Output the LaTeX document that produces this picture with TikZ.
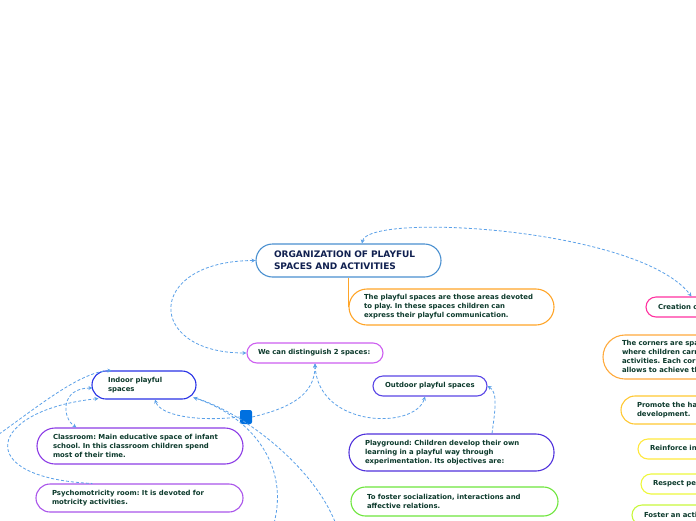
\documentclass[tikz,border=0pt]{standalone}
\usepackage{fontspec}
\setmainfont{DejaVu Sans}
\usetikzlibrary{arrows.meta,calc}
\definecolor{txt}{RGB}{12,58,44}
\definecolor{ttl}{RGB}{16,32,80}
\definecolor{cTitle}{RGB}{74,144,208}
\definecolor{cOrange}{RGB}{255,165,40}
\definecolor{cWecan}{RGB}{205,95,240}
\definecolor{cIndoor}{RGB}{40,50,230}
\definecolor{cOutdoor}{RGB}{90,70,230}
\definecolor{cClass}{RGB}{140,60,230}
\definecolor{cPsycho}{RGB}{170,85,235}
\definecolor{cPlay}{RGB}{80,50,220}
\definecolor{cFoster}{RGB}{110,230,60}
\definecolor{cCreation}{RGB}{255,50,160}
\definecolor{cCorners}{RGB}{255,170,60}
\definecolor{cPromote}{RGB}{255,200,50}
\definecolor{cReinforce}{RGB}{255,232,60}
\definecolor{cRespect}{RGB}{238,248,60}
\definecolor{cFosterAn}{RGB}{200,248,60}
\definecolor{cSquare}{RGB}{0,112,224}
\definecolor{cLink}{RGB}{90,160,232}
\newcommand\mmf{\bfseries\fontsize{6.9}{9}\selectfont}
\newcommand\mmt{\bfseries\fontsize{9}{12}\selectfont}
\frenchspacing
\begin{document}
\begin{tikzpicture}[x=1pt,y=-1pt,
  mm/.style={draw, line width=1.1pt, align=left, inner ysep=0pt, font=\mmf, text=txt, fill=white},
  link/.style={draw=cLink, line width=0.8pt, dash pattern=on 3pt off 2pt},
  tip/.style={-{Stealth[length=4pt,width=4pt]}},
  tips/.style={{Stealth[length=4pt,width=4pt]}-{Stealth[length=4pt,width=4pt]}}]
\clip (0,0) rectangle (696,520);
\fill[white] (0,0) rectangle (696,520);
% nodes
\node[mm, draw=cTitle, font=\mmt, text=ttl, minimum width=185pt, minimum height=33pt, inner xsep=18pt, text width=149pt, rounded corners=16.5pt] (title) at (348.5,260.5) {ORGANIZATION OF PLAYFUL\\SPACES AND ACTIVITIES};
\node[mm, draw=cOrange, minimum width=205pt, minimum height=36pt, inner xsep=15pt, text width=175pt, rounded corners=18pt] (desc) at (451.5,307) {The playful spaces are those areas devoted\\to play. In these spaces children can\\express their playful communication.};
\node[mm, draw=cWecan, minimum width=136pt, minimum height=20pt, inner xsep=11pt, text width=114pt, rounded corners=10pt] (wecan) at (315,353) {We can distinguish 2 spaces:};
\node[mm, draw=cIndoor, minimum width=104pt, minimum height=28pt, inner xsep=16pt, text width=72pt, rounded corners=14pt] (indoor) at (144,385) {Indoor playful\\spaces};
\node[mm, draw=cOutdoor, minimum width=114pt, minimum height=20pt, inner xsep=12pt, text width=90pt, rounded corners=10pt] (outdoor) at (430,386) {Outdoor playful spaces};
\node[draw=none, fill=cSquare, minimum width=12pt, minimum height=14pt, inner sep=0pt, rounded corners=2pt] (square) at (246,417) {};
\node[mm, draw=cClass, minimum width=206pt, minimum height=36pt, inner xsep=16pt, text width=174pt, rounded corners=18pt] (classroom) at (140,446) {Classroom: Main educative space of infant\\school. In this classroom children spend\\most of their time.};
\node[mm, draw=cPsycho, minimum width=207pt, minimum height=28pt, inner xsep=16pt, text width=175pt, rounded corners=14pt] (psycho) at (139.5,498) {Psychomotricity room: It is devoted for\\motricity activities.};
\node[mm, draw=cPlay, minimum width=205pt, minimum height=37pt, inner xsep=16pt, text width=173pt, rounded corners=18pt] (playground) at (451.5,452.5) {Playground: Children develop their own\\learning in a playful way through\\experimentation. Its objectives are:};
\node[mm, draw=cFoster, minimum width=207pt, minimum height=29pt, inner xsep=16pt, text width=175pt, rounded corners=14.5pt] (foster) at (454.5,501.5) {To foster socialization, interactions and\\affective relations.};
\node[mm, draw=cCreation, minimum width=130pt, minimum height=20pt, inner xsep=12pt, text width=106pt, rounded corners=10pt] (creation) at (711,307) {Creation of corners};
\node[mm, draw=cCorners, minimum width=220pt, minimum height=44pt, inner xsep=19pt, text width=182pt, rounded corners=22pt] (corners) at (713,357) {The corners are spaces in the classroom\\where children carry out different\\activities. Each corner has a purpose and\\allows to achieve the objectives.};
\node[mm, draw=cPromote, minimum width=170pt, minimum height=28pt, inner xsep=16pt, text width=138pt, rounded corners=14pt] (promote) at (706,410) {Promote the harmonious\\development.};
\node[mm, draw=cReinforce, minimum width=130pt, minimum height=20pt, inner xsep=12pt, text width=106pt, rounded corners=10pt] (reinforce) at (703,449) {Reinforce independence.};
\node[mm, draw=cRespect, minimum width=150pt, minimum height=20pt, inner xsep=12pt, text width=126pt, rounded corners=10pt] (respect) at (716,484) {Respect peers and materials.};
\node[mm, draw=cFosterAn, minimum width=150pt, minimum height=20pt, inner xsep=12pt, text width=126pt, rounded corners=10pt] (fosteran) at (707,515) {Foster an active attitude.};
% free ends
\coordinate (offA) at (272,530);
\coordinate (offB) at (338,530);
\coordinate (offL) at (-5,437);
% connectors
\draw[cOrange, line width=1.1pt] (desc.west |- title.south) -- (desc.west);
\draw[link, tips] ($(title.north)+(13.5,0)$) .. controls (368,212) and (640,228) .. ($(creation.north west)+(46,0)$);
\draw[link, tips] (title.west) .. controls (145,261) and (145,353) .. (wecan.west);
\draw[link, tip] (square.east) .. controls (290,408) and (315,395) .. (wecan.south);
\draw[link, tips] (wecan.south) .. controls (318,428) and (415,430) .. ($(outdoor.south)+(-5,0)$);
\draw[link, tip] (square.west) .. controls (195,422) and (160,415) .. ($(indoor.south)+(11,0)$);
\draw[link, {Stealth[length=4pt,width=4pt]}-] ($(indoor.south east)+(-3,-2)$) .. controls (255,418) and (292,470) .. (offA);
\draw[link] ($(indoor.south east)+(-3,-2)$) .. controls (240,410) and (318,468) .. (offB);
\draw[link, tip] (offL) .. controls (40,405) and (80,372) .. ($(indoor.north west)+(20,0)$);
\draw[link, tips] ($(indoor.west)+(1,3)$) .. controls (60,388) and (62,418) .. ($(classroom.north west)+(40,0)$);
\draw[link, {Stealth[length=4pt,width=4pt]}-] ($(indoor.south west)+(7,-1)$) .. controls (-12,410) and (-30,478) .. ($(psycho.north west)+(57,0)$);
\draw[link, tip] ($(playground.north)+(40.5,0)$) .. controls (496,405) and (497,392) .. (outdoor.east);
\end{tikzpicture}
\end{document}
